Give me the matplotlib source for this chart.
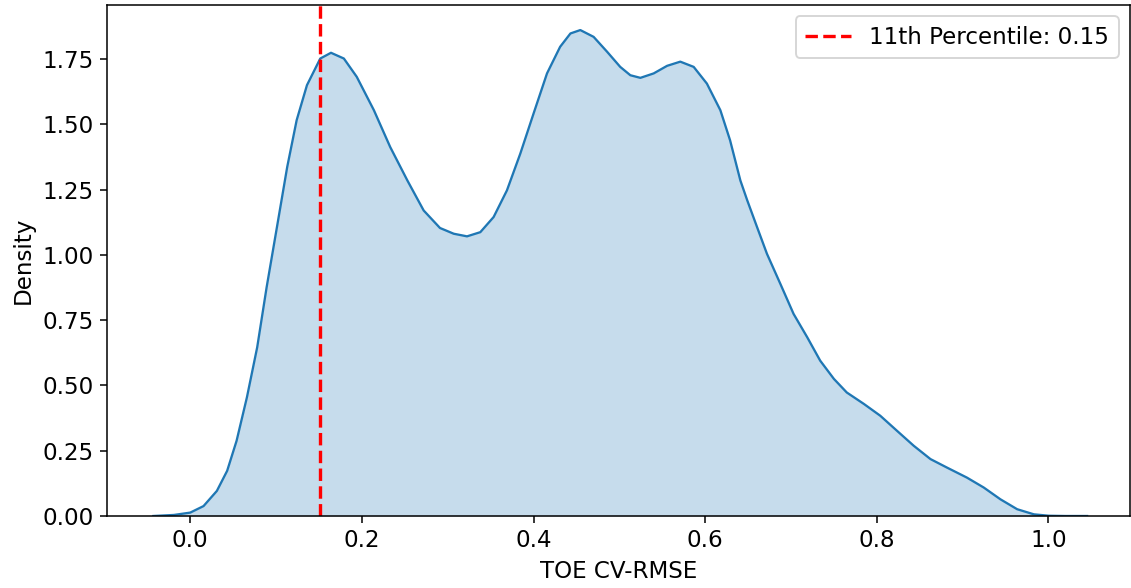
import numpy as np
import matplotlib
matplotlib.use('Agg')
from matplotlib import pyplot as plt

# density curve (x = TOE CV-RMSE, y = density)
kde_x = [-0.043, -0.019, 0.0, 0.0155, 0.031, 0.043, 0.054, 0.066, 0.078, 0.089,
         0.101, 0.113, 0.124, 0.136, 0.1515, 0.164, 0.179, 0.194, 0.214, 0.233,
         0.253, 0.272, 0.291, 0.307, 0.3225, 0.338, 0.3535, 0.369, 0.3846, 0.400,
         0.4157, 0.431, 0.443, 0.4545, 0.470, 0.4857, 0.501, 0.5128, 0.5245, 0.540,
         0.5556, 0.571, 0.5866, 0.602, 0.6177, 0.629, 0.641, 0.649, 0.6605, 0.672,
         0.6876, 0.703, 0.719, 0.734, 0.750, 0.765, 0.785, 0.804, 0.8236, 0.843,
         0.8625, 0.882, 0.905, 0.9246, 0.944, 0.9635, 0.983, 1.0003, 1.02, 1.045]
kde_y = [0.0, 0.004, 0.013, 0.038, 0.096, 0.173, 0.288, 0.454, 0.646, 0.876,
         1.106, 1.337, 1.516, 1.650, 1.752, 1.774, 1.752, 1.682, 1.554, 1.413,
         1.285, 1.170, 1.103, 1.081, 1.071, 1.087, 1.145, 1.247, 1.388, 1.541,
         1.695, 1.797, 1.848, 1.861, 1.835, 1.778, 1.720, 1.688, 1.678, 1.695,
         1.724, 1.740, 1.720, 1.656, 1.554, 1.439, 1.285, 1.209, 1.106, 1.004,
         0.889, 0.774, 0.684, 0.595, 0.525, 0.473, 0.429, 0.384, 0.326, 0.269,
         0.218, 0.185, 0.147, 0.109, 0.064, 0.026, 0.0064, 0.001, 0.0, 0.0]

pct = 11
pct_value = 0.151

plt.rcParams['font.size'] = 12

dpi = 138
fig = plt.figure(figsize=(1131 / dpi, 588 / dpi), dpi=dpi)
ax = fig.add_axes([107 / 1131, 1 - 516 / 588, (1130 - 107) / 1131, (516 - 5) / 588])

ax.fill_between(kde_x, kde_y, 0, color='C0', alpha=0.25, linewidth=0)
ax.plot(kde_x, kde_y, color='C0', linewidth=1.2)
ax.axvline(pct_value, color='red', linestyle='--', linewidth=1.75,
           label=f'{pct}th Percentile: {pct_value:.2f}')

ax.set_xlim(-0.097, 1.095)
ax.set_ylim(0, 1.957)
ax.set_xlabel('TOE CV-RMSE')
ax.set_ylabel('Density')
ax.legend(loc='upper right')

fig.savefig('out.png', dpi=dpi)
